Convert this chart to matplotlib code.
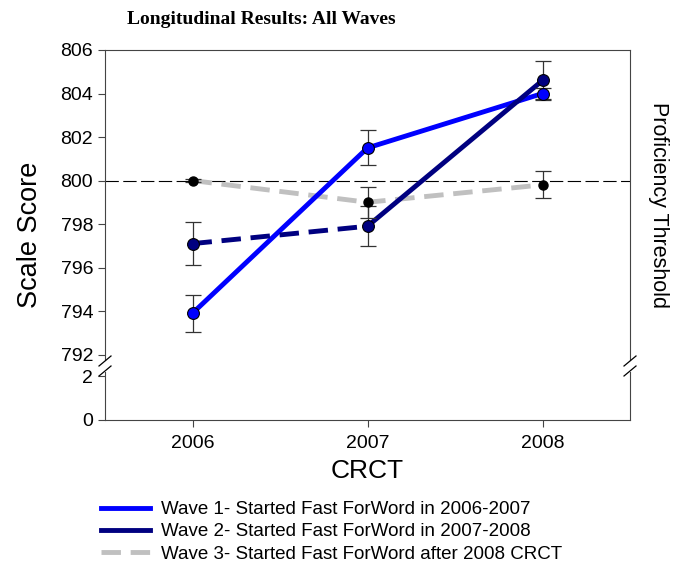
import matplotlib
matplotlib.use('Agg')
import matplotlib.pyplot as plt
from matplotlib.lines import Line2D

# Data
years = [2006, 2007, 2008]
wave1 = [793.9, 801.5, 804.0]
wave1_err = [0.85, 0.8, 0.25]
wave2 = [797.1, 797.9, 804.6]
wave2_err = [1.0, 0.92, 0.88]
wave3 = [800.0, 799.0, 799.8]
wave3_err = [0.05, 0.72, 0.62]
threshold = 800
upper_ticks = [792, 794, 796, 798, 800, 802, 804, 806]
lower_ticks = [0, 2]

labels = ['Wave 1- Started Fast ForWord in 2006-2007',
          'Wave 2- Started Fast ForWord in 2007-2008',
          'Wave 3- Started Fast ForWord after 2008 CRCT']
c1, c2, c3 = '#0000ff', '#000080', '#c0c0c0'

plt.rcParams['font.family'] = ['Liberation Sans', 'DejaVu Sans']
spine_col = '#444444'

fig = plt.figure(figsize=(6.83, 5.69), dpi=100)
W, H = 683, 569
left, right = 105 / W, 630 / W
ax = fig.add_axes([left, 1 - 360 / H, right - left, 310 / H])
axb = fig.add_axes([left, 1 - 420 / H, right - left, 48 / H])

# upper part
ax.axhline(threshold, color='black', lw=0.8, ls=(0, (12, 4)), zorder=1)
ax.plot(years, wave3, color=c3, lw=3.5, ls=(0, (4, 2)), zorder=2)
ax.plot(years, wave1, color=c1, lw=3.5, zorder=3, solid_capstyle='round')
ax.plot(years[:2], wave2[:2], color=c2, lw=3.5, ls=(0, (4, 2)), zorder=4)
ax.plot(years[1:], wave2[1:], color=c2, lw=3.5, zorder=4, solid_capstyle='round')

for vals, errs in [(wave1, wave1_err), (wave2, wave2_err), (wave3, wave3_err)]:
    ax.errorbar(years, vals, yerr=errs, fmt='none', ecolor='#333333',
                elinewidth=0.9, capsize=6, capthick=0.9, zorder=5)

ax.plot(years, wave1, 'o', color=c1, mec='black', mew=0.8, ms=8.5, zorder=6)
ax.plot(years, wave2, 'o', color=c2, mec='black', mew=0.8, ms=8.5, zorder=6)
ax.plot(years, wave3, 'o', color='black', ms=6.5, zorder=7)

ax.set_xlim(2005.5, 2008.5)
ax.set_ylim(791.75, 806)
ax.set_yticks(upper_ticks)
ax.set_xticks([])
ax.spines['bottom'].set_visible(False)
for s in ['left', 'right', 'top']:
    ax.spines[s].set_color(spine_col)
ax.tick_params(axis='y', direction='out', length=5, labelsize=14, color=spine_col, right=False)

# lower part
axb.set_xlim(2005.5, 2008.5)
axb.set_ylim(0, 2.2)
axb.set_yticks(lower_ticks)
axb.set_xticks(years)
axb.spines['top'].set_visible(False)
for s in ['left', 'right', 'bottom']:
    axb.spines[s].set_color(spine_col)
axb.tick_params(direction='out', length=5, labelsize=14, color=spine_col, right=False)
axb.tick_params(axis='x', pad=6)
axb.set_xlabel('CRCT', fontsize=19, labelpad=5)

# break marks
for xb in [105, 630]:
    for yb in [361, 371]:
        fig.add_artist(Line2D([(xb - 6) / W, (xb + 6) / W],
                              [1 - (yb + 5) / H, 1 - (yb - 5) / H],
                              color='black', lw=0.9))

fig.text(30 / W, 1 - 235 / H, 'Scale Score', rotation=90, fontsize=19.5,
         ha='center', va='center')
fig.text(658 / W, 1 - 205 / H, 'Proficiency Threshold', rotation=270, fontsize=15.5,
         ha='center', va='center')
fig.text(261 / W, 1 - 20 / H, 'Longitudinal Results: All Waves', fontsize=14,
         fontweight='bold', family='Liberation Serif', ha='center', va='center')

handles = [Line2D([], [], color=c1, lw=3.5),
           Line2D([], [], color=c2, lw=3.5),
           Line2D([], [], color=c3, lw=3.5, ls=(0, (4, 2)))]
fig.legend(handles, labels, loc='upper left', bbox_to_anchor=(101 / W, 1 - 501 / H),
           frameon=False, fontsize=13.5, handlelength=2.6, handletextpad=0.6,
           labelspacing=0.28, borderpad=0, borderaxespad=0)

fig.savefig('out.png', dpi=100)
